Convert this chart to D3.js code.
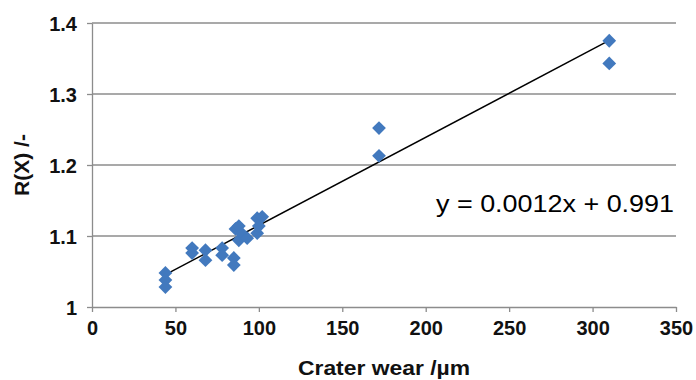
<!DOCTYPE html>
<html>
<head>
<meta charset="utf-8">
<script src="https://cdn.jsdelivr.net/npm/d3@7"></script>
<style>
  body { margin: 0; background: #fff; }
  text { font-family: "Liberation Sans", Arial, sans-serif; }
  .tick text { font-size: 20px; font-weight: bold; fill: #111; }
  .title { font-size: 21px; font-weight: bold; fill: #111; }
  .eq { font-size: 24px; }
</style>
</head>
<body>
<div id="chart"></div>
<script>
// crater wear (µm) and R(X)
const wear = [310, 310, 172, 172, 44, 44, 44, 60, 60, 68, 68, 78, 78, 85, 85,
              86, 88, 88, 90, 93, 99, 99, 100, 102];
const rx   = [1.375, 1.343, 1.252, 1.213, 1.048, 1.038, 1.028, 1.083, 1.076, 1.080, 1.066, 1.083, 1.073, 1.069, 1.059,
              1.110, 1.114, 1.094, 1.103, 1.097, 1.125, 1.104, 1.114, 1.127];
const xTicks = [0, 50, 100, 150, 200, 250, 300, 350];
const yTicks = [1, 1.1, 1.2, 1.3, 1.4];
const trendSlope = 0.00124, trendIntercept = 0.991;
const equation = "y = 0.0012x + 0.991";

const data = wear.map((d, i) => ({x: d, y: rx[i]}));

const margin = {top: 23, right: 20, bottom: 73, left: 92};
const W = 696, H = 380;
const width = W - margin.left - margin.right;
const height = H - margin.top - margin.bottom;

const svg = d3.select("#chart").append("svg")
    .attr("width", W).attr("height", H)
  .append("g")
    .attr("transform", "translate(" + margin.left + "," + margin.top + ")");

const xScale = d3.scaleLinear().domain([0, 350]).range([0, width]);
const yScale = d3.scaleLinear().domain([1, 1.4]).range([height, 0]);

// grid lines
svg.append("g")
  .selectAll("line")
  .data(yTicks.slice(1))
  .enter().append("line")
    .attr("x1", 0).attr("x2", width)
    .attr("y1", d => yScale(d)).attr("y2", d => yScale(d))
    .attr("stroke", "#8c8c8c").attr("stroke-width", 1.3);

// axes
const xAxis = svg.append("g")
    .attr("transform", "translate(0," + height + ")")
    .call(d3.axisBottom(xScale).tickValues(xTicks).tickSize(5).tickPadding(9).tickSizeOuter(0));
const yAxis = svg.append("g")
    .call(d3.axisLeft(yScale).tickValues(yTicks).tickFormat(d3.format("")).tickSize(5).tickPadding(10).tickSizeOuter(0));
[xAxis, yAxis].forEach(a => {
  a.select(".domain").attr("stroke", "#8c8c8c").attr("stroke-width", 1.3);
  a.selectAll(".tick line").attr("stroke", "#8c8c8c").attr("stroke-width", 1.3);
});
yAxis.selectAll(".tick text").attr("dy", "0.35em");

// trend line
const xr = d3.extent(wear);
svg.append("line")
    .attr("x1", xScale(xr[0])).attr("y1", yScale(trendSlope * xr[0] + trendIntercept))
    .attr("x2", xScale(xr[1])).attr("y2", yScale(trendSlope * xr[1] + trendIntercept))
    .attr("stroke", "#000").attr("stroke-width", 1.4);

// points
svg.append("g")
  .selectAll("path")
  .data(data)
  .enter().append("path")
    .attr("d", d3.symbol().type(d3.symbolSquare).size(95))
    .attr("transform", d => "translate(" + xScale(d.x) + "," + yScale(d.y) + ") rotate(45)")
    .attr("fill", "#4279be");

// equation
svg.append("text")
    .attr("class", "eq")
    .attr("x", 344).attr("y", 189)
    .attr("textLength", 238).attr("lengthAdjust", "spacingAndGlyphs")
    .text(equation);

// axis titles
svg.append("text")
    .attr("class", "title")
    .attr("x", width / 2).attr("y", height + 68)
    .attr("text-anchor", "middle")
    .attr("textLength", 172).attr("lengthAdjust", "spacingAndGlyphs")
    .text("Crater wear /µm");
svg.append("text")
    .attr("class", "title")
    .attr("transform", "translate(" + (-63) + "," + (height / 2) + ") rotate(-90)")
    .attr("text-anchor", "middle")
    .text("R(X) /-");
</script>
</body>
</html>
